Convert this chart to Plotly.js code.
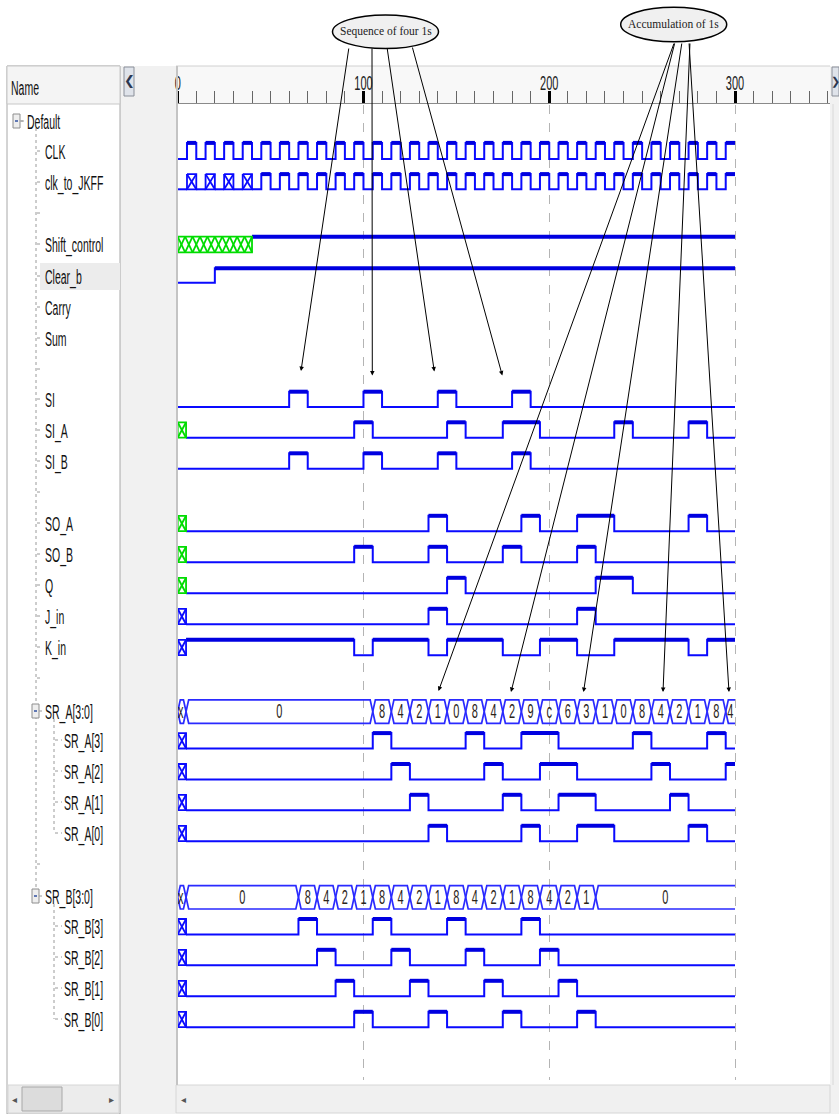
<!DOCTYPE html>
<html><head><meta charset="utf-8">
<script src="https://cdn.plot.ly/plotly-3.0.1.min.js"></script>
<style>html,body{margin:0;padding:0;background:#fff;}#chart{width:839px;height:1114px;}</style>
</head><body><div id="chart"></div>
<script>
// ================= DATA =================
const T_END = 300;
const CLK_HIGH = [[5,10],[15,20],[25,30],[35,40],[45,50],[55,60],[65,70],[75,80],[85,90],[95,100],[105,110],[115,120],[125,130],[135,140],[145,150],[155,160],[165,170],[175,180],[185,190],[195,200],[205,210],[215,220],[225,230],[235,240],[245,250],[255,260],[265,270],[275,280],[285,290],[295,300]];
const CLKJK_UNKNOWN = [[5,10],[15,20],[25,30],[35,40]];
const CLKJK_HIGH = [[45,50],[55,60],[65,70],[75,80],[85,90],[95,100],[105,110],[115,120],[125,130],[135,140],[145,150],[155,160],[165,170],[175,180],[185,190],[195,200],[205,210],[215,220],[225,230],[235,240],[245,250],[255,260],[265,270],[275,280],[285,290],[295,300]];
const SHIFT_UNKNOWN = [[0,40]];
const SHIFT_HIGH = [[40,300]];
const CLEARB_HIGH = [[20,300]];
const SI_HIGH = [[60,70],[100,110],[140,150],[180,190]];
const SIA_UNKNOWN = [[0,4.5]];
const SIA_HIGH = [[95,105],[145,155],[175,195],[235,245],[275,285]];
const SIB_HIGH = [[60,70],[100,110],[140,150],[180,190]];
const SOA_UNKNOWN = [[0,4.5]];
const SOA_HIGH = [[135,145],[185,195],[215,235],[275,285]];
const SOB_UNKNOWN = [[0,4.5]];
const SOB_HIGH = [[95,105],[135,145],[175,185],[215,225]];
const Q_UNKNOWN = [[0,4.5]];
const Q_HIGH = [[145,155],[225,245]];
const JIN_UNKNOWN = [[0,4.5]];
const JIN_HIGH = [[135,145],[215,225]];
const KIN_UNKNOWN = [[0,4.5]];
const KIN_HIGH = [[4.5,95],[105,135],[145,175],[195,215],[235,275],[285,300]];
const SRA_TIMES = [0,4.5,105,115,125,135,145,155,165,175,185,195,205,215,225,235,245,255,265,275,285,295,300];
const SRA_VALUES = ['x','0','8','4','2','1','0','8','4','2','9','c','6','3','1','0','8','4','2','1','8','4'];
const SRB_TIMES = [0,4.5,65,75,85,95,105,115,125,135,145,155,165,175,185,195,205,215,225,300];
const SRB_VALUES = ['x','0','8','4','2','1','8','4','2','1','8','4','2','1','8','4','2','1','0'];
const RULER_LABELS = ['0','100','200','300'];
const SIGNAL_NAMES = ['CLK','clk_to_JKFF','Shift_control','Clear_b','Carry','Sum','SI','SI_A','SI_B','SO_A','SO_B','Q','J_in','K_in','SR_A[3:0]','SR_A[3]','SR_A[2]','SR_A[1]','SR_A[0]','SR_B[3:0]','SR_B[3]','SR_B[2]','SR_B[1]','SR_B[0]'];
const CALLOUTS = ['Sequence of four 1s','Accumulation of 1s'];

// ================= LAYOUT HELPERS =================
const W = 839, H = 1114;
const X0PX = 177.7, PXU = 1.8577;
const u = p => (p - X0PX) / PXU;
const PX = p => p / W;
const PY = p => 1 - p / H;
const FONT = "'Liberation Sans',Arial,sans-serif";
const STRETCH = 1.9;
const BLUE = '#0a0aff', GREEN = '#00dc00';

const NAME_POS = {
 'CLK':[45,151],'clk_to_JKFF':[45,182],'Shift_control':[45,244],'Clear_b':[45,276],'Carry':[45,307],'Sum':[45,338],
 'SI':[45,399],'SI_A':[45,430],'SI_B':[45,461],'SO_A':[45,523],'SO_B':[45,554],'Q':[45,585],'J_in':[45,616],'K_in':[45,647],
 'SR_A[3:0]':[45,711],'SR_A[3]':[64,740],'SR_A[2]':[64,771],'SR_A[1]':[64,802],'SR_A[0]':[64,833],
 'SR_B[3:0]':[45,896],'SR_B[3]':[64,926],'SR_B[2]':[64,957],'SR_B[1]':[64,988],'SR_B[0]':[64,1019]};

const base = {x:[],y:[]}, thick = {x:[],y:[]}, xb = {x:[],y:[]}, xg = {x:[],y:[]}, busL = {x:[],y:[]}, busT = {x:[],y:[],t:[]};

function drawX(a,b,hi,lo,st,cellW){
  st.x.push(a,b,b,a,a,null); st.y.push(hi,hi,lo,lo,hi,null);
  const n = Math.max(1, Math.round((b-a)/cellW));
  const w = (b-a)/n;
  for (let i=0;i<n;i++){ const c0=a+i*w, c1=c0+w;
    st.x.push(c0,c1,null,c0,c1,null); st.y.push(hi,lo,null,lo,hi,null); }
}
function bitTrace(high, unknown, yc, amp, xstore, cellW){
  const lo = yc+amp, hi = yc-amp;
  const bp = new Set([0,T_END]);
  high.concat(unknown).forEach(([a,b])=>{bp.add(a);bp.add(b);});
  const pts = [...bp].sort((a,b)=>a-b);
  const segs = [];
  for (let i=0;i<pts.length-1;i++){
    const a=pts[i], b=pts[i+1], m=(a+b)/2;
    const st = unknown.some(([s,e])=>m>s&&m<e)?'X':(high.some(([s,e])=>m>s&&m<e)?'H':'L');
    if (segs.length && segs[segs.length-1].st===st) segs[segs.length-1].b=b; else segs.push({a,b,st});
  }
  segs.forEach(s=>{
    if (s.st==='X'){ drawX(s.a,s.b,hi,lo,xstore,cellW||4); base.x.push(null); base.y.push(null); return; }
    const y = s.st==='H'?hi:lo;
    base.x.push(s.a,s.b); base.y.push(y,y);
    if (s.st==='H'){ thick.x.push(s.a,s.b,null); thick.y.push(hi,hi,null); }
  });
  base.x.push(null); base.y.push(null);
}
function busTrace(times, vals, yc, h){
  const d = 1.4;
  for (let i=0;i<vals.length;i++){
    const a=times[i], b=times[i+1], last = i===vals.length-1;
    if (!last){ busL.x.push(a,a+d,b-d,b,b-d,a+d,a,null); busL.y.push(yc,yc-h,yc-h,yc,yc+h,yc+h,yc,null); }
    else { busL.x.push(b,a+d,a,a+d,b,null); busL.y.push(yc-h,yc-h,yc,yc+h,yc+h,null); }
    busT.x.push(vals[i]==='x'? a+1.6 : (a+b)/2); busT.y.push(yc); busT.t.push(vals[i]);
  }
}
function busBit(times, vals, k){
  const hi=[], unk=[];
  vals.forEach((v,i)=>{ if (v==='x') unk.push([times[i],times[i+1]]); else if ((parseInt(v,16)>>k)&1) hi.push([times[i],times[i+1]]); });
  return [hi,unk];
}

const A = 7.7;
bitTrace(CLK_HIGH, [], 151, 8.1, xb);
bitTrace(CLKJK_HIGH, CLKJK_UNKNOWN, 181.7, 7.6, xb, 5);
bitTrace(SHIFT_HIGH, SHIFT_UNKNOWN, 244.5, 7.8, xg, 4);
bitTrace(CLEARB_HIGH, [], 275.5, 7.2, xb);
bitTrace(SI_HIGH, [], 399.4, A, xb);
bitTrace(SIA_HIGH, SIA_UNKNOWN, 430, A, xg);
bitTrace(SIB_HIGH, [], 461, A, xb);
bitTrace(SOA_HIGH, SOA_UNKNOWN, 523.5, A, xg);
bitTrace(SOB_HIGH, SOB_UNKNOWN, 554.5, A, xg);
bitTrace(Q_HIGH, Q_UNKNOWN, 585.5, A, xg);
bitTrace(JIN_HIGH, JIN_UNKNOWN, 616.5, A, xb);
bitTrace(KIN_HIGH, KIN_UNKNOWN, 647.5, A, xb);
busTrace(SRA_TIMES, SRA_VALUES, 711.6, 11.7);
[[3,740.8],[2,771.7],[1,802.5],[0,833.5]].forEach(([k,y])=>{ const [h,x]=busBit(SRA_TIMES,SRA_VALUES,k); bitTrace(h,x,y,A,xb); });
busTrace(SRB_TIMES, SRB_VALUES, 897.3, 11.7);
[[3,926.7],[2,957.5],[1,988.5],[0,1019.5]].forEach(([k,y])=>{ const [h,x]=busBit(SRB_TIMES,SRB_VALUES,k); bitTrace(h,x,y,A,xb); });

const traces = [
  {x:base.x,y:base.y,mode:'lines',line:{color:BLUE,width:2},hoverinfo:'skip',cliponaxis:false},
  {x:thick.x,y:thick.y,mode:'lines',line:{color:'#0000e0',width:4},hoverinfo:'skip',cliponaxis:false},
  {x:xb.x,y:xb.y,mode:'lines',line:{color:BLUE,width:1.8},hoverinfo:'skip'},
  {x:xg.x,y:xg.y,mode:'lines',line:{color:GREEN,width:1.8},hoverinfo:'skip'},
  {x:busL.x,y:busL.y,mode:'lines',line:{color:'#2a2aff',width:1.7},hoverinfo:'skip'},
  {x:busT.x,y:busT.y,text:busT.t,mode:'text',textfont:{family:FONT,size:11,color:'#2b2418'},hoverinfo:'skip',cliponaxis:false},
  {x:[0],y:[null],xaxis:'x2',mode:'markers',hoverinfo:'skip'}
];

// ================= SHAPES =================
const shapes = [];
const rectP = (x0,y0,x1,y1,fill,line,lw,layer)=>shapes.push({type:'rect',xref:'paper',yref:'paper',x0:PX(x0),x1:PX(x1),y0:PY(y0),y1:PY(y1),fillcolor:fill||'rgba(0,0,0,0)',line:{color:line||'rgba(0,0,0,0)',width:lw||0},layer:layer||'below'});
const lineP = (x0,y0,x1,y1,color,w,dash,layer)=>shapes.push({type:'line',xref:'paper',yref:'paper',x0:PX(x0),x1:PX(x1),y0:PY(y0),y1:PY(y1),line:{color,width:w,dash:dash||'solid'},layer:layer||'above'});

rectP(120,66,176,1114,'#f1f1f1');                 // gap between panels
rectP(830,66,839,1114,'#f1f1f1');                 // right strip
rectP(7,66,120,1114,'#ffffff','#a8a8a8',1);       // name panel
rectP(7,66,120,104,'#f4f4f4','#c8c8c8',1);        // Name header
rectP(176,66,830,103,'#f8f8f8');                  // ruler bg
lineP(176,66,830,66,'#d0d0d0',1);
rectP(40,263,120,290,'#ececec');                  // selected row highlight
rectP(8,1085,119,1113,'#ececec','#d6d6d6',1);     // left scrollbar
rectP(22,1087,62,1111,'#dcdcdc','#a8a8a8',1);
rectP(176,1085,830,1113,'#f0f0f0','#d6d6d6',1);   // wave scrollbar
rectP(124,67,134,96,'#dfe3ea','#8a8f99',1);       // < button
rectP(832,67,839,96,'#dfe3ea','#8a8f99',1);       // > button
lineP(177,66,177,1085,'#c4c4c4',2);               // wave panel left border
lineP(833,104,833,1085,'#d8d8d8',1);

// tree lines
const dotC = '#9a9a9a';
lineP(36,128,36,891,dotC,1,'dot');
lineP(21,121,26,121,dotC,1,'dot');
[151,182,244,276,307,338,399,430,461,523,554,585,616,647].forEach(y=>lineP(37,y,43,y,dotC,1,'dot'));
[213,369,492,678,864].forEach(y=>lineP(37,y,42,y,dotC,1,'dot'));
lineP(54,719,54,833,dotC,1,'dot');
lineP(54,904,54,1019,dotC,1,'dot');
[740,771,802,833,926,957,988,1019].forEach(y=>lineP(55,y,62,y,dotC,1,'dot'));
[[13,121],[32,711],[32,896]].forEach(([x,y])=>{
  rectP(x,y-7,x+7,y+7,'#eeeeee','#8e8e8e',1,'above');
  lineP(x+2,y,x+5,y,'#3050a0',1.5);
  lineP(x+7,y,x+11,y,dotC,1,'dot');
});

// callout ellipses
shapes.push({type:'circle',xref:'paper',yref:'paper',x0:PX(332.5),x1:PX(438.5),y0:PY(48.5),y1:PY(15),fillcolor:'#f0f0f0',line:{color:'#000',width:1.5},layer:'above'});
shapes.push({type:'circle',xref:'paper',yref:'paper',x0:PX(620.7),x1:PX(726.7),y0:PY(41.7),y1:PY(7.3),fillcolor:'#f0f0f0',line:{color:'#000',width:1.5},layer:'above'});

// ================= ANNOTATIONS =================
const ann = [];
const txt = (t,x,y,opt)=>ann.push(Object.assign({text:t,xref:'paper',yref:'paper',x:PX(x),y:PY(y),xanchor:'left',yanchor:'middle',showarrow:false,borderpad:0,font:{family:FONT,size:10.5,color:'#111'}},opt||{}));
txt('Name',10,87);
txt('Default',26,121);
SIGNAL_NAMES.forEach(n=>{ const p=NAME_POS[n]; txt(n,p[0]-1,p[1]); });
txt('❮',129,81,{xanchor:'center',font:{family:'DejaVu Sans',size:13,color:'#2c3850'}});
txt('❯',835.5,81,{xanchor:'center',font:{family:'DejaVu Sans',size:11,color:'#2c3850'}});
txt('◂',14,1099,{xanchor:'center',font:{family:'DejaVu Sans',size:10,color:'#555'}});
txt('▸',111,1099,{xanchor:'center',font:{family:'DejaVu Sans',size:10,color:'#555'}});
txt('◂',183,1099,{xanchor:'center',font:{family:'DejaVu Sans',size:10,color:'#555'}});

const arrows = [
  [349,47,301,371],[372,47,372.3,375.5],[387,47,434.3,371.5],[412,46,502.3,375.5],
  [674.5,42,438.5,691],[675,42,511,692],[682,42,583.5,692],[690,42,663,692],[689,42,729,692]
];
arrows.forEach(([sx,sy,ex,ey])=>ann.push({text:'',xref:'paper',yref:'paper',x:PX(ex),y:PY(ey),axref:'pixel',ayref:'pixel',ax:sx-ex,ay:sy-ey,showarrow:true,arrowhead:2,arrowsize:0.9,arrowwidth:1,arrowcolor:'#000',standoff:0}));
txt(CALLOUTS[0],385.5,31.5,{xanchor:'center',font:{family:"'Liberation Serif','DejaVu Serif',serif",size:11.5,color:'#222'}});
txt(CALLOUTS[1],673.7,24.5,{xanchor:'center',font:{family:"'Liberation Serif','DejaVu Serif',serif",size:11.5,color:'#222'}});

const xr = [u(177), u(830)];
const layout = {
  width:W, height:H, margin:{l:0,r:0,t:0,b:0}, showlegend:false,
  paper_bgcolor:'#ffffff', plot_bgcolor:'rgba(0,0,0,0)',
  xaxis:{domain:[PX(177),PX(830)], range:xr, showgrid:true, dtick:100, tick0:0, griddash:'dash', gridcolor:'#b4b4b4', gridwidth:1,
         showticklabels:false, ticks:'', zeroline:false, showline:false, fixedrange:true},
  xaxis2:{overlaying:'x', side:'top', anchor:'free', position:PY(103), domain:[PX(177),PX(830)], range:xr,
          tickmode:'array', tickvals:RULER_LABELS.map(Number), ticktext:RULER_LABELS,
          ticks:'outside', ticklen:12, tickwidth:3, tickcolor:'#000', showgrid:false, zeroline:false,
          showline:true, linecolor:'#8a8a8a', linewidth:1, tickfont:{family:FONT,size:11,color:'#222'},
          minor:{dtick:10, tick0:0, ticks:'outside', ticklen:12, tickwidth:1, tickcolor:'#666', showgrid:false}},
  yaxis:{domain:[PY(1080),PY(105)], range:[1080,105], visible:false, showgrid:false, zeroline:false, fixedrange:true},
  shapes, annotations:ann
};

// Stretch the interface text vertically (the reference screenshot is horizontally compressed)
function stretchText(){
  const labelSet = new Set(SIGNAL_NAMES.concat(['Name','Default']));
  const targets = [];
  document.querySelectorAll('g.annotation text.annotation-text').forEach(t=>{ if (labelSet.has(t.textContent)) targets.push(t); });
  document.querySelectorAll('g.textpoint text').forEach(t=>targets.push(t));
  document.querySelectorAll('.x2tick text').forEach(t=>targets.push(t));
  targets.forEach(t=>{
    const bb = t.getBBox();
    const cy = bb.y + bb.height/2;
    const prev = t.getAttribute('transform') || '';
    t.setAttribute('transform', prev + ' translate(0,' + cy + ') scale(1,' + STRETCH + ') translate(0,' + (-cy) + ')');
  });
}
Plotly.newPlot('chart', traces, layout, {staticPlot:true, displayModeBar:false}).then(stretchText);
</script></body></html>
